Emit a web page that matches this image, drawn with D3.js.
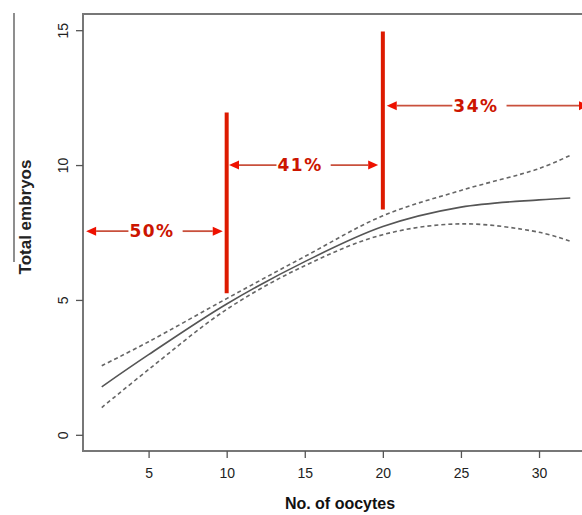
<!DOCTYPE html>
<html>
<head>
<meta charset="utf-8">
<script src="https://cdn.jsdelivr.net/npm/d3@7"></script>
<style>
  body { margin: 0; background: #fff; }
  svg { display: block; }
</style>
</head>
<body>
<div id="chart"></div>
<script>
// fitted curve and its confidence band
const oocytes = [2, 5, 10, 15, 20, 25, 30, 32];
const fitted  = [1.78, 2.97, 4.85, 6.42, 7.72, 8.44, 8.71, 8.78];
const upper   = [2.56, 3.45, 5.05, 6.61, 8.12, 9.06, 9.87, 10.36];
const lower   = [1.01, 2.42, 4.65, 6.27, 7.42, 7.82, 7.51, 7.18];

const xTicks = [5, 10, 15, 20, 25, 30];
const yTicks = [0, 5, 10, 15];

// red cut-off bars and the percentage arrows between them
const cutoffs = [
  {x: 10, y0: 5.25, y1: 11.95},
  {x: 20, y0: 8.35, y1: 14.95}
];
const spans = [
  {label: "50%", from: 1.0, to: 9.75, y: 7.55, textX: 5.22},
  {label: "41%", from: 10.15, to: 19.7, y: 10.0, textX: 14.7},
  {label: "34%", from: 20.25, to: 33.2, y: 12.2, textX: 25.96}
];

const w = 582, h = 515;
const margin = {top: 14, right: -7, bottom: 64, left: 83};

const svg = d3.select("#chart").append("svg")
    .attr("width", w)
    .attr("height", h);

const x = d3.scaleLinear()
    .domain([0.8, 33.2])
    .range([margin.left, w - margin.right]);
const y = d3.scaleLinear()
    .domain([-0.6, 15.6])
    .range([h - margin.bottom, margin.top]);

// stray rule at the far left, as in the scan
svg.append("line")
    .attr("x1", 14).attr("x2", 14)
    .attr("y1", 13).attr("y2", 262)
    .attr("stroke", "#444").attr("stroke-width", 1.2);

// plot box
svg.append("rect")
    .attr("x", x.range()[0])
    .attr("y", y.range()[1])
    .attr("width", x.range()[1] - x.range()[0])
    .attr("height", y.range()[0] - y.range()[1])
    .attr("fill", "none")
    .attr("stroke", "#777")
    .attr("stroke-width", 2);

// axes
const xAxis = svg.append("g")
    .attr("transform", `translate(0,${y.range()[0]})`)
    .call(d3.axisBottom(x).tickValues(xTicks).tickSize(7).tickPadding(10));
const yAxis = svg.append("g")
    .attr("transform", `translate(${x.range()[0]},0)`)
    .call(d3.axisLeft(y).tickValues(yTicks).tickSize(7).tickPadding(0));

[xAxis, yAxis].forEach(g => {
    g.select(".domain").remove();
    g.selectAll(".tick line").attr("stroke", "#555").attr("stroke-width", 1.3);
    g.selectAll(".tick text")
        .attr("fill", "#222")
        .style("font-family", "'Liberation Sans', Arial, sans-serif")
        .style("font-size", "14px");
});

yAxis.selectAll(".tick text")
    .attr("x", 0).attr("dy", null)
    .attr("text-anchor", "middle")
    .attr("transform", "translate(-20,0) rotate(-90)")
    .attr("dominant-baseline", "central");

// axis titles
svg.append("text")
    .attr("x", 340)
    .attr("y", 509)
    .attr("text-anchor", "middle")
    .style("font-family", "'Liberation Sans', Arial, sans-serif")
    .style("font-size", "16px")
    .style("font-weight", "bold")
    .attr("fill", "#111")
    .text("No. of oocytes");

svg.append("text")
    .attr("transform", "translate(31,217) rotate(-90)")
    .attr("text-anchor", "middle")
    .style("font-family", "'Liberation Sans', Arial, sans-serif")
    .style("font-size", "17px")
    .style("font-weight", "bold")
    .attr("fill", "#222")
    .text("Total embryos");

// curves
const line = d3.line()
    .x((d, i) => x(oocytes[i]))
    .y(d => y(d))
    .curve(d3.curveCatmullRom);

svg.append("path")
    .attr("d", line(upper))
    .attr("fill", "none")
    .attr("stroke", "#666")
    .attr("stroke-width", 1.6)
    .attr("stroke-dasharray", "4,3");
svg.append("path")
    .attr("d", line(lower))
    .attr("fill", "none")
    .attr("stroke", "#666")
    .attr("stroke-width", 1.6)
    .attr("stroke-dasharray", "4,3");
svg.append("path")
    .attr("d", line(fitted))
    .attr("fill", "none")
    .attr("stroke", "#555")
    .attr("stroke-width", 1.6);

// red cut-off bars
svg.selectAll(".cutoff")
    .data(cutoffs)
    .enter()
    .append("line")
    .attr("class", "cutoff")
    .attr("x1", d => x(d.x)).attr("x2", d => x(d.x))
    .attr("y1", d => y(d.y0)).attr("y2", d => y(d.y1))
    .attr("stroke", "#dd1a00")
    .attr("stroke-width", 4);

// double arrows with the percentages
const head = 10, headH = 4.5;
spans.forEach(s => {
    const g = svg.append("g");
    const x0 = x(s.from), x1 = x(s.to), yy = y(s.y), tx = x(s.textX);
    const label = g.append("text")
        .attr("x", tx)
        .attr("y", yy)
        .attr("text-anchor", "middle")
        .attr("dominant-baseline", "central")
        .style("font-family", "'DejaVu Sans', Verdana, sans-serif")
        .style("font-size", "17px")
        .style("font-weight", "bold")
        .style("letter-spacing", "1.5px")
        .attr("fill", "#cc1500")
        .text(s.label);
    const bw = label.node().getComputedTextLength();
    const left = tx - bw / 2 - 1, right = tx + bw / 2 + 8;
    g.append("line")
        .attr("x1", x0 + head).attr("x2", left)
        .attr("y1", yy).attr("y2", yy)
        .attr("stroke", "#c9503c").attr("stroke-width", 1.8);
    g.append("line")
        .attr("x1", right).attr("x2", x1 - head)
        .attr("y1", yy).attr("y2", yy)
        .attr("stroke", "#c9503c").attr("stroke-width", 1.8);
    g.append("path")
        .attr("d", `M${x0},${yy} L${x0 + head},${yy - headH} L${x0 + head},${yy + headH} Z`)
        .attr("fill", "#ee1100");
    g.append("path")
        .attr("d", `M${x1},${yy} L${x1 - head},${yy - headH} L${x1 - head},${yy + headH} Z`)
        .attr("fill", "#ee1100");
});
</script>
</body>
</html>
